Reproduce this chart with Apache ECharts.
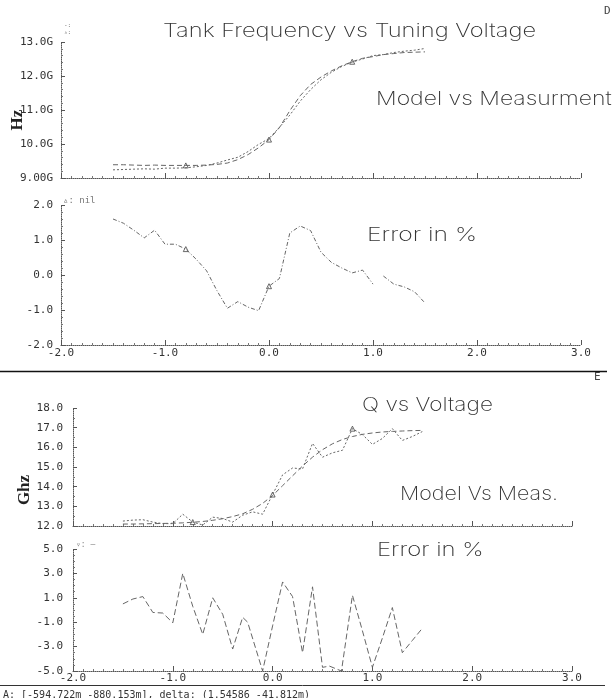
<!DOCTYPE html>
<html><head><meta charset="utf-8">
<script src="https://cdn.jsdelivr.net/npm/echarts@6/dist/echarts.min.js"></script>
<style>html,body{margin:0;padding:0;background:#fff}#c{width:613px;height:698px}</style>
</head><body><div id="c"></div><script>
// ---------- data ----------
const voltage = [-1.5,-1.4,-1.3,-1.2,-1.1,-1.0,-0.9,-0.8,-0.7,-0.6,-0.5,-0.4,-0.3,-0.2,-0.1,0.0,0.1,0.2,0.3,0.4,0.5,0.6,0.7,0.8,0.9,1.0,1.1,1.2,1.3,1.4,1.5];
// tank frequency (G Hz) - two traces
const freqModel = [9.39,9.39,9.38,9.37,9.38,9.37,9.37,9.37,9.37,9.38,9.40,9.44,9.54,9.69,9.89,10.13,10.48,10.98,11.42,11.75,11.97,12.15,12.30,12.42,12.52,12.57,12.63,12.66,12.69,12.70,12.71];
const freqMeas  = [9.24,9.25,9.26,9.27,9.26,9.29,9.29,9.30,9.33,9.37,9.44,9.53,9.61,9.78,9.99,10.16,10.49,10.85,11.26,11.60,11.89,12.11,12.28,12.41,12.50,12.60,12.63,12.69,12.73,12.76,12.81];
// frequency error (%) - gap between 1.0 and 1.1
const freqErrVoltage = [-1.5,-1.4,-1.3,-1.2,-1.1,-1.0,-0.9,-0.8,-0.7,-0.6,-0.5,-0.4,-0.3,-0.2,-0.1,0.0,0.1,0.2,0.3,0.4,0.5,0.6,0.7,0.8,0.9,1.0,1.05,1.1,1.2,1.3,1.4,1.5];
const freqErr = [1.60,1.48,1.28,1.06,1.28,0.88,0.88,0.74,0.45,0.12,-0.45,-0.95,-0.76,-0.92,-1.02,-0.32,-0.10,1.20,1.40,1.27,0.65,0.36,0.20,0.06,0.14,-0.26,'-',-0.03,-0.26,-0.34,-0.48,-0.80];
// Q
const qModel = [12.10,12.10,12.11,12.12,12.13,12.14,12.16,12.19,12.23,12.29,12.37,12.48,12.62,12.85,13.15,13.55,14.05,14.55,15.05,15.50,15.88,16.18,16.40,16.55,16.66,16.73,16.78,16.81,16.83,16.85,16.86];
const qMeas  = [12.25,12.30,12.32,12.20,12.12,12.12,12.60,12.20,12.05,12.45,12.38,12.20,12.55,12.72,12.60,13.60,14.60,14.95,14.90,16.20,15.50,15.72,15.85,16.95,16.65,16.15,16.45,16.95,16.35,16.55,16.80];
// Q error (%)
const qErrVoltage = [-1.5,-1.4,-1.3,-1.2,-1.1,-1.0,-0.9,-0.8,-0.7,-0.6,-0.5,-0.4,-0.3,-0.25,-0.1,0.0,0.1,0.2,0.3,0.4,0.5,0.57,0.69,0.8,0.9,1.0,1.1,1.2,1.3,1.4,1.5];
const qErr = [0.5,0.9,1.1,-0.2,-0.25,-1.05,3.0,0.3,-2.0,1.0,-0.35,-3.2,-0.6,-1.0,-5.0,-1.3,2.3,1.1,-3.5,1.9,-4.7,-4.6,-5.0,1.2,-1.7,-4.7,-2.3,0.2,-3.5,-2.5,-1.5];
// marker positions
const markerVoltage = [-0.8, 0.0, 0.8];
// tick labels
const xTickLabels = ['-2.0','-1.0','0.0','1.0','2.0','3.0'];
const freqTickLabels = ['9.00G','10.0G','11.0G','12.0G','13.0G'];
const freqErrTickLabels = ['-2.0','-1.0','0.0','1.0','2.0'];
const qTickLabels = ['12.0','13.0','14.0','15.0','16.0','17.0','18.0'];
const qErrTickLabels = ['-5.0','-3.0','-1.0','1.0','3.0','5.0'];

// ---------- chart ----------
const MONO = 'DejaVu Sans Mono';
const TITLEFONT = 'Inter';
const AX = '#555';
function pairs(xs, ys){ return xs.map((x,i)=>[x, ys[i]]); }
function marks(xs, ys){ return xs.map((x,i)=>[x, ys[i]]).filter(p=>markerVoltage.some(m=>Math.abs(m-p[0])<1e-9)); }

function xAxis(gi, showLabel, margin){
  return {type:'value', gridIndex:gi, min:-2, max:3, interval:1,
    axisLine:{show:true, onZero:false, lineStyle:{color:AX, width:1, type:[1,1]}},
    axisTick:{show:true, inside:true, length:5, lineStyle:{color:AX}},
    minorTick:{show:true, splitNumber:10, length:2, lineStyle:{color:'#777'}},
    splitLine:{show:false}, minorSplitLine:{show:false},
    axisLabel:{show:showLabel, margin:margin, fontFamily:MONO, fontSize:11, color:'#333',
      formatter:(v)=>xTickLabels[Math.round(v+2)]}};
}
function yAxis(gi, min, max, interval, labels, margin, minor){
  return {type:'value', gridIndex:gi, min:min, max:max, interval:interval,
    axisLine:{show:true, onZero:false, lineStyle:{color:AX, width:1, type:[1,1]}},
    axisTick:{show:true, inside:true, length:4, lineStyle:{color:AX}},
    minorTick:{show:true, splitNumber:minor, length:2, lineStyle:{color:'#777'}},
    splitLine:{show:false},
    axisLabel:{margin:margin, fontFamily:MONO, fontSize:11, color:'#333',
      formatter:(v)=>labels[Math.round((v-min)/interval)]}};
}
function line(xi, data, dash, color){
  return {type:'line', xAxisIndex:xi, yAxisIndex:xi, data:data, symbol:'none', smooth:false,
    connectNulls:false, animation:false,
    lineStyle:{color:color||'#666', width:1, type:dash}};
}
function scat(xi, data, sym){
  return {type:'scatter', xAxisIndex:xi, yAxisIndex:xi, data:data, symbol:sym, symbolSize:5,
    animation:false, itemStyle:{color:'#fff', borderColor:'#444', borderWidth:1}};
}
function txt(x, y, s, size, sx){
  return {type:'text', x:x, y:y, scaleX:sx||1.2, silent:true,
    style:{text:s, fontFamily:TITLEFONT, fontSize:size, fill:'#333', fontWeight:200}};
}

const chart = echarts.init(document.getElementById('c'), null, {renderer:'canvas'});
chart.setOption({
  animation:false,
  backgroundColor:'#fff',
  grid:[
    {left:61, top:42, width:520, height:136},
    {left:61, top:205, width:520, height:140},
    {left:73, top:408, width:499, height:118},
    {left:73, top:549, width:499, height:122}
  ],
  xAxis:[xAxis(0,false,8), xAxis(1,true,3), xAxis(2,false,8), xAxis(3,true,2)],
  yAxis:[
    yAxis(0, 9, 13, 1, freqTickLabels, 8, 5),
    yAxis(1, -2, 2, 1, freqErrTickLabels, 8, 5),
    yAxis(2, 12, 18, 1, qTickLabels, 10, 2),
    yAxis(3, -5, 5, 2, qErrTickLabels, 10, 4)
  ],
  series:[
    line(0, pairs(voltage, freqModel), [5,3]),
    line(0, pairs(voltage, freqMeas), [2,2]),
    scat(0, marks(voltage, freqModel), 'triangle'),
    line(1, pairs(freqErrVoltage, freqErr), [4,2,1,2]),
    scat(1, marks(freqErrVoltage, freqErr).slice(0,2), 'triangle'),
    line(2, pairs(voltage, qModel), [5,3]),
    line(2, pairs(voltage, qMeas), [2,2]),
    scat(2, marks(voltage, qMeas), 'triangle'),
    line(3, pairs(qErrVoltage, qErr), [6,3])
  ],
  graphic:[
    txt(163, 22, 'Tank Frequency vs Tuning Voltage', 19, 1.245),
    txt(376, 90, 'Model vs Measurment', 19, 1.21),
    txt(367, 226, 'Error in %', 19, 1.3),
    txt(362, 396, 'Q vs Voltage', 19, 1.19),
    txt(400, 485, 'Model Vs Meas.', 19, 1.13),
    txt(377, 541, 'Error in %', 19, 1.26),
    {type:'text', x:18, y:120, rotation:Math.PI/2, silent:true,
      style:{text:'Hz', fontFamily:'Liberation Serif', fontWeight:'bold', fontSize:17, fill:'#222', align:'center', verticalAlign:'middle'}},
    {type:'text', x:25, y:490, rotation:Math.PI/2, silent:true,
      style:{text:'Ghz', fontFamily:'Liberation Serif', fontWeight:'bold', fontSize:17, fill:'#222', align:'center', verticalAlign:'middle'}},
    {type:'text', x:64, y:22, silent:true, style:{text:'-:\n\u25B5:', fontFamily:MONO, fontSize:6, fill:'#777', lineHeight:7}},
    {type:'text', x:63, y:196, silent:true, style:{text:'\u25B5: nil', fontFamily:MONO, fontSize:9, fill:'#777'}},
    {type:'text', x:76, y:541, silent:true, style:{text:'\u25BF: \u2013', fontFamily:MONO, fontSize:8, fill:'#888'}},
    {type:'text', x:604, y:6, silent:true, style:{text:'D', fontFamily:MONO, fontSize:11, fill:'#444'}},
    {type:'text', x:594, y:372, silent:true, style:{text:'E', fontFamily:MONO, fontSize:11, fill:'#444'}},
    {type:'line', silent:true, shape:{x1:0, y1:371.5, x2:607, y2:371.5}, style:{stroke:'#111', lineWidth:1.5}},
    {type:'line', silent:true, shape:{x1:0, y1:685.5, x2:605, y2:685.5}, style:{stroke:'#333', lineWidth:1}},
    {type:'text', x:3, y:690, silent:true, style:{text:'A: [-594.722m -880.153m], delta: (1.54586 -41.812m)', fontFamily:MONO, fontSize:10, fill:'#333'}}
  ]
});
</script></body></html>
